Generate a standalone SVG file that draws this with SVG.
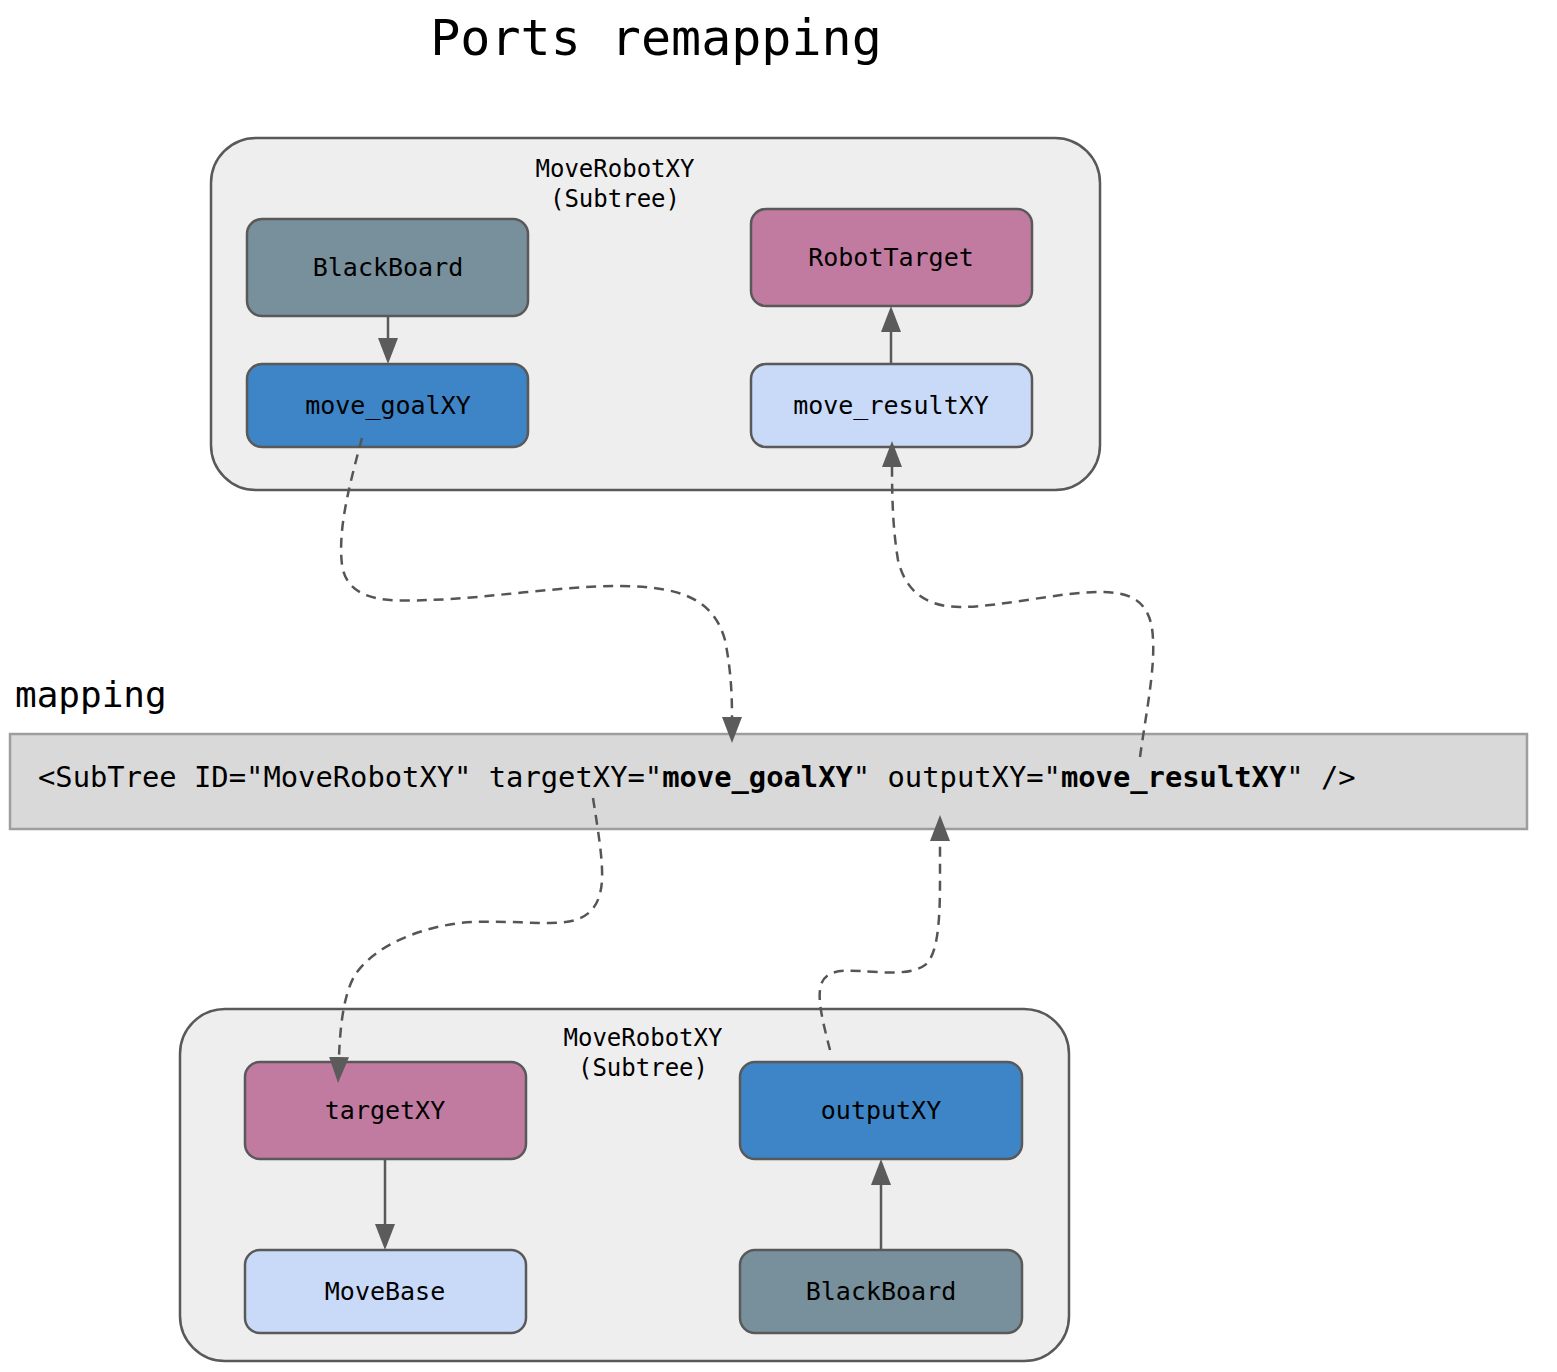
<svg xmlns="http://www.w3.org/2000/svg" width="1557" height="1372" viewBox="0 0 1557 1372">
<style>
text{font-family:"DejaVu Sans Mono","Liberation Mono",monospace;fill:#000}
.cl{fill:#eeeeee;stroke:#595959;stroke-width:2.5}
.nd{stroke:#595959;stroke-width:2.5}
.lbl{font-size:25px;text-anchor:middle}
.cap{font-size:24px;text-anchor:middle}
.e{fill:none;stroke:#595959;stroke-width:2.5}
.d{fill:none;stroke:#555555;stroke-width:2.5;stroke-dasharray:10,7}
</style>
<defs>
<marker id="ah" markerUnits="userSpaceOnUse" markerWidth="26" markerHeight="20" refX="0" refY="10" orient="auto" viewBox="0 0 26 20">
<path d="M0,0 L26,10 L0,20 z" fill="#5b5b5b"/>
</marker>
</defs>
<rect width="1557" height="1372" fill="#ffffff"/>
<text x="656" y="55" font-size="50" text-anchor="middle">Ports remapping</text>

<g id="cluster_top">
<rect class="cl" x="211" y="138" width="889" height="352" rx="45"/>
<text class="cap" x="615" y="177">MoveRobotXY</text>
<text class="cap" x="615" y="207">(Subtree)</text>
</g>
<g id="cluster_bottom">
<rect class="cl" x="180" y="1009" width="889" height="352" rx="45"/>
<text class="cap" x="643" y="1046">MoveRobotXY</text>
<text class="cap" x="643" y="1076">(Subtree)</text>
</g>

<g id="bb_top"><rect class="nd" x="247" y="219" width="281" height="97" rx="15" fill="#78909c"/><text class="lbl" x="388" y="276">BlackBoard</text></g>
<g id="move_goalXY"><rect class="nd" x="247" y="364" width="281" height="83" rx="15" fill="#3d85c6"/><text class="lbl" x="388" y="414">move_goalXY</text></g>
<g id="RobotTarget"><rect class="nd" x="751" y="209" width="281" height="97" rx="15" fill="#c27ba0"/><text class="lbl" x="891" y="266">RobotTarget</text></g>
<g id="move_resultXY"><rect class="nd" x="751" y="364" width="281" height="83" rx="15" fill="#c9daf8"/><text class="lbl" x="891" y="414">move_resultXY</text></g>

<g id="mapping">
<text x="15" y="707" font-size="36">mapping</text>
<rect x="10" y="734" width="1517" height="95" fill="#d9d9d9" stroke="#9e9e9e" stroke-width="2.5"/>
<text x="38" y="787" font-size="28.8">&lt;SubTree ID="MoveRobotXY" targetXY="<tspan font-weight="bold">move_goalXY</tspan>" outputXY="<tspan font-weight="bold">move_resultXY</tspan>" /&gt;</text>
</g>

<g id="targetXY"><rect class="nd" x="245" y="1062" width="281" height="97" rx="15" fill="#c27ba0"/><text class="lbl" x="385" y="1119">targetXY</text></g>
<g id="MoveBase"><rect class="nd" x="245" y="1250" width="281" height="83" rx="15" fill="#c9daf8"/><text class="lbl" x="385" y="1300">MoveBase</text></g>
<g id="outputXY"><rect class="nd" x="740" y="1062" width="282" height="97" rx="15" fill="#3d85c6"/><text class="lbl" x="881" y="1119">outputXY</text></g>
<g id="bb_bottom"><rect class="nd" x="740" y="1250" width="282" height="83" rx="15" fill="#78909c"/><text class="lbl" x="881" y="1300">BlackBoard</text></g>

<g id="connectors">
<path class="e" d="M388,316 L388,338" marker-end="url(#ah)"/>
<path class="e" d="M891,364 L891,332" marker-end="url(#ah)"/>
<path class="e" d="M385,1159 L385,1224" marker-end="url(#ah)"/>
<path class="e" d="M881,1250 L881,1185" marker-end="url(#ah)"/>
<path class="d" d="M362,438 C348,490 338,530 342,565 C348,605 395,601 430,600 C490,598 560,586 620,586 C690,586 715,605 725,640 C731,670 732,695 732,717" marker-end="url(#ah)"/>
<path class="d" d="M1140,757 C1145,720 1155,670 1153,640 C1152,600 1130,592 1100,592 C1060,592 1000,607 960,607 C925,607 905,590 898,560 C893,530 892,500 892,467" marker-end="url(#ah)"/>
<path class="d" d="M593,798 C598,830 603,860 602,880 C600,915 580,923 550,923 C520,923 490,920 460,923 C420,928 375,945 355,975 C343,995 340,1030 339,1057" marker-end="url(#ah)"/>
<path class="d" d="M830,1050 C825,1030 818,1005 820,990 C822,970 840,970 860,971 C880,972 910,976 925,965 C938,955 940,920 940,880 L940,841" marker-end="url(#ah)"/>
</g>
</svg>
